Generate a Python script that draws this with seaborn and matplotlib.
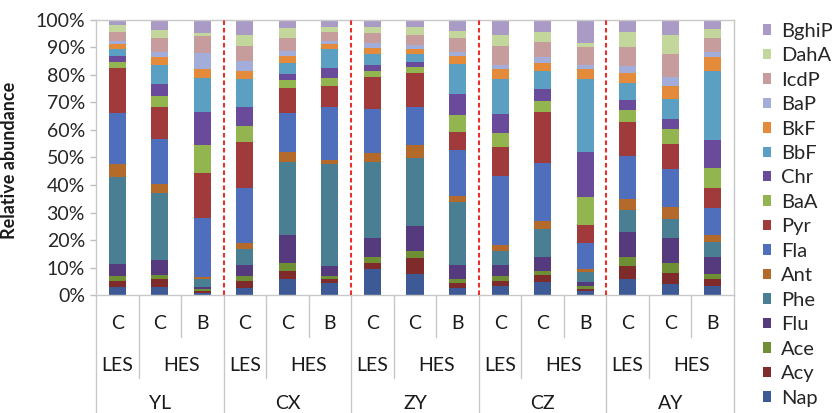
import matplotlib
matplotlib.use("Agg")
import numpy as np
import pandas as pd
import matplotlib.pyplot as plt
from matplotlib.ticker import FuncFormatter
import seaborn as sns

# x-axis structure
sites = ["YL", "CX", "ZY", "CZ", "AY"]
seasons = ["LES", "HES", "HES"]
types = ["C", "C", "B"]

compounds = ["Nap", "Acy", "Ace", "Flu", "Phe", "Ant", "Fla", "Pyr",
             "BaA", "Chr", "BbF", "BkF", "BaP", "IcdP", "DahA", "BghiP"]

# relative abundance (%) per bar, bars ordered site by site: LES-C, HES-C, HES-B
nap = [3.0, 3.0, 0.8, 2.7, 5.7, 4.5, 9.3, 7.6, 2.5, 3.3, 4.6, 1.5, 5.7, 3.9, 3.3]
acy = [2.2, 2.7, 0.7, 2.4, 3.0, 1.4, 2.5, 5.7, 1.7, 1.9, 2.6, 0.8, 5.0, 4.2, 2.5]
ace = [1.7, 1.5, 0.6, 1.8, 2.8, 1.0, 2.1, 2.8, 1.7, 1.7, 1.6, 1.0, 3.0, 3.4, 1.8]
flu = [4.3, 5.5, 0.7, 4.0, 10.3, 3.8, 6.7, 9.1, 5.0, 4.0, 5.1, 1.5, 9.3, 9.1, 6.3]
phe = [31.6, 24.5, 2.9, 5.7, 26.6, 36.8, 27.8, 24.7, 22.9, 5.1, 10.0, 3.4, 7.9, 6.9, 5.3]
ant = [4.7, 3.3, 0.7, 2.2, 3.7, 1.6, 3.1, 4.5, 2.3, 2.1, 3.0, 1.1, 4.0, 4.4, 2.6]
fla = [18.5, 16.2, 21.5, 20.2, 14.0, 19.1, 16.0, 14.1, 16.5, 25.3, 21.0, 9.5, 15.8, 13.8, 9.9]
pyr = [16.7, 11.5, 16.3, 16.5, 9.1, 7.8, 11.7, 12.1, 6.6, 10.5, 18.8, 6.5, 12.1, 9.2, 7.1]
baa = [2.1, 4.2, 10.2, 6.1, 2.9, 3.0, 2.4, 2.2, 6.1, 4.9, 4.0, 10.5, 4.5, 5.3, 7.3]
chr_ = [2.1, 4.3, 12.0, 6.9, 2.1, 3.4, 2.0, 1.8, 7.9, 7.0, 4.1, 16.1, 3.6, 3.8, 10.3]
bbf = [2.7, 6.8, 12.5, 9.9, 4.2, 6.9, 4.0, 3.0, 10.9, 12.6, 6.8, 26.5, 6.1, 7.3, 25.1]
bkf = [1.7, 3.2, 3.4, 3.2, 2.5, 1.9, 2.1, 1.7, 2.8, 3.8, 2.9, 3.9, 3.6, 4.7, 5.0]
bap = [1.2, 1.8, 5.6, 3.5, 1.8, 1.0, 1.8, 1.6, 1.6, 1.4, 2.2, 1.3, 2.7, 3.2, 2.0]
icdp = [3.1, 5.1, 6.3, 5.4, 4.6, 3.6, 3.7, 3.8, 4.8, 6.9, 5.3, 6.5, 6.8, 8.3, 4.8]
daha = [2.4, 2.8, 1.0, 3.9, 3.9, 1.5, 2.1, 2.9, 2.7, 3.8, 3.6, 1.4, 5.4, 7.0, 3.3]
bghip = [2.0, 3.6, 4.8, 5.6, 2.8, 2.7, 2.7, 2.4, 4.0, 5.6, 4.4, 8.5, 4.5, 5.5, 3.4]

colors = {
    "Nap": "#3D5A96", "Acy": "#7F2B2B", "Ace": "#6E8F34", "Flu": "#553A7E",
    "Phe": "#4A7E92", "Ant": "#B36A2B", "Fla": "#4F6FBC", "Pyr": "#A03A3B",
    "BaA": "#93B550", "Chr": "#6A4A9B", "BbF": "#5B9FC3", "BkF": "#E38B3B",
    "BaP": "#A3ADD9", "IcdP": "#C69C9C", "DahA": "#C3D69B", "BghiP": "#A99BC6",
}

df = pd.DataFrame(dict(zip(compounds, [nap, acy, ace, flu, phe, ant, fla, pyr,
                                       baa, chr_, bbf, bkf, bap, icdp, daha, bghip])))
df = df.div(df.sum(axis=1), axis=0) * 100
cum = df.cumsum(axis=1)
bar_ids = np.arange(len(df))

sns.set_style("white")
plt.rcParams["font.family"] = ["Lato", "DejaVu Sans"]

fig = plt.figure(figsize=(8.32, 4.13), dpi=100)
ax = fig.add_axes([0.1154, 0.2857, 0.7668, 0.6659])

# stacked bars: draw cumulative totals from the top component down
for name in reversed(compounds):
    sns.barplot(x=bar_ids, y=cum[name].values, color=colors[name], width=0.4,
                saturation=1, errorbar=None, linewidth=0, label=name, ax=ax)

ax.set_xlim(-0.5, len(df) - 0.5)
ax.set_ylim(0, 100)
ax.set_yticks(np.arange(0, 101, 10))
ax.yaxis.set_major_formatter(FuncFormatter(lambda v, p: f"{v:.0f}%"))
ax.tick_params(axis="y", left=True, length=4, width=1, color="#BFBFBF",
               labelsize=14, labelcolor="#262626", pad=4)
ax.set_xticks([])
ax.set_xlabel("")
for sp in ax.spines.values():
    sp.set_color("#C8C8C8")
    sp.set_linewidth(1)

ax.set_ylabel("Relative abundance", fontsize=13, fontweight="bold", color="#1a1a1a")
ax.yaxis.set_label_coords(-0.122, 0.49)

# red dashed separators between sites
for s in range(1, len(sites)):
    ax.axvline(3 * s - 0.5, color="#E8302E", lw=1.5, ls=(0, (2.2, 1.4)), zorder=5)

# multi-level category axis
tr = ax.get_xaxis_transform()
line_kw = dict(color="#C8C8C8", lw=1, transform=tr, clip_on=False)
txt_kw = dict(transform=tr, ha="center", va="center", fontsize=14, color="#1a1a1a")
for s, site in enumerate(sites):
    x0 = 3 * s
    ax.plot([x0 - 0.5, x0 - 0.5], [0, -0.43], **line_kw)
    ax.plot([x0 + 0.5, x0 + 0.5], [0, -0.302], **line_kw)
    ax.plot([x0 + 1.5, x0 + 1.5], [0, -0.153], **line_kw)
    for k in range(3):
        ax.text(x0 + k, -0.102, types[k], **txt_kw)
    ax.text(x0, -0.258, seasons[0], **txt_kw)
    ax.text(x0 + 1.5, -0.258, seasons[1], **txt_kw)
    ax.text(x0 + 1, -0.395, site, **txt_kw)
ax.plot([len(df) - 0.5] * 2, [0, -0.43], **line_kw)

ax.legend(loc="upper left", bbox_to_anchor=(1.045, 0.99), frameon=False,
          fontsize=14.5, handlelength=0.42, handleheight=0.42, handletextpad=0.5,
          labelspacing=0.37, borderaxespad=0, borderpad=0)

fig.savefig("out.png", dpi=100)
